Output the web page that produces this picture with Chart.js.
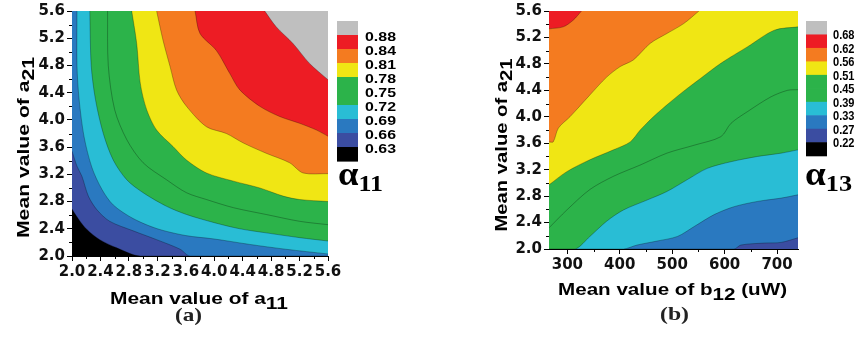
<!DOCTYPE html>
<html>
<head>
<meta charset="utf-8">
<script src="https://cdn.jsdelivr.net/npm/chart.js@4.4.1/dist/chart.umd.min.js"></script>
<style>
  body { margin: 0; background: #fff; }
  #wrap { position: relative; width: 867px; height: 345px; }
  #wrap canvas { position: absolute; left: 0; top: 0; }
</style>
</head>
<body>
<div id="wrap">
  <canvas id="chartA" width="867" height="345"></canvas>
  <canvas id="chartB" width="867" height="345"></canvas>
</div>
<script>
// level colours, lowest level first (black ... gray)
const levelColors = ['#000000', '#3b4da1', '#2a79c0', '#29bdd5', '#2cb34a', '#2cb34a', '#f0e614', '#f47b20', '#ed1c24', '#bfbfbf'];
const barLabelsA = ['0.88', '0.84', '0.81', '0.78', '0.75', '0.72', '0.69', '0.66', '0.63'];
const barLabelsB = ['0.68', '0.62', '0.56', '0.51', '0.45', '0.39', '0.33', '0.27', '0.22'];

// (a) contour boundaries of alpha11 over (a11, a21)
const a063 = [[2.0,2.69],[2.1,2.53],[2.21,2.39],[2.39,2.24],[2.63,2.12],[2.96,2.0],[5.6,2.0]];
const a066 = [[2.0,3.54],[2.07,3.32],[2.14,3.17],[2.23,2.88],[2.35,2.68],[2.53,2.51],[2.86,2.37],[3.19,2.24],[3.52,2.1],[3.66,2.0],[5.6,2.0]];
const a069 = [[2.07,5.6],[2.07,4.8],[2.1,4.3],[2.17,3.75],[2.28,3.3],[2.42,2.98],[2.58,2.75],[2.86,2.55],[3.2,2.4],[3.6,2.3],[4.0,2.25],[4.5,2.17],[5.0,2.1],[5.6,2.03]];
const a072 = [[2.25,5.6],[2.27,4.8],[2.33,4.3],[2.44,3.8],[2.58,3.41],[2.77,3.12],[3.0,2.93],[3.33,2.73],[3.61,2.61],[4.0,2.49],[4.36,2.4],[4.73,2.34],[5.2,2.27],[5.6,2.22]];
const a075 = [[2.5,5.6],[2.51,4.8],[2.6,4.15],[2.77,3.71],[3.0,3.37],[3.33,3.12],[3.61,2.93],[3.89,2.83],[4.27,2.71],[4.73,2.61],[5.2,2.51],[5.6,2.46]];
const a078 = [[2.84,5.6],[2.91,5.12],[2.96,4.54],[3.05,4.15],[3.19,3.85],[3.42,3.61],[3.61,3.41],[3.89,3.22],[4.27,3.1],[4.64,3.0],[4.97,2.88],[5.2,2.83],[5.6,2.8]];
const a081 = [[3.19,5.6],[3.28,5.17],[3.38,4.78],[3.47,4.44],[3.61,4.2],[3.89,3.9],[4.17,3.8],[4.41,3.66],[4.73,3.51],[5.06,3.37],[5.25,3.22],[5.6,3.21]];
const a084 = [[3.73,5.6],[3.8,5.27],[4.03,5.02],[4.22,4.68],[4.36,4.44],[4.64,4.2],[4.92,4.05],[5.2,3.95],[5.44,3.85],[5.6,3.76]];
const a088 = [[4.71,5.6],[4.87,5.37],[5.11,5.12],[5.34,4.83],[5.6,4.59]];

// (b) contour boundaries of alpha13 over (b12, a21)
const b027 = [[265,2.0],[618,2.0],[631,2.06],[676,2.09],[708,2.1],[740,2.17]];
const b033 = [[265,2.0],[407,2.0],[433,2.06],[471,2.12],[510,2.19],[542,2.34],[580,2.52],[618,2.64],[663,2.72],[708,2.77],[740,2.82]];
const b039 = [[265,2.0],[315,2.0],[343,2.19],[375,2.42],[407,2.59],[452,2.74],[490,2.87],[529,3.05],[567,3.22],[612,3.32],[663,3.4],[708,3.45],[740,3.5]];
const b045 = [[265,2.32],[299,2.59],[343,2.9],[388,3.1],[439,3.27],[490,3.45],[542,3.57],[593,3.7],[612,3.9],[644,4.08],[688,4.3],[720,4.4],[740,4.41]];
const b051 = [[265,2.97],[299,3.17],[343,3.35],[388,3.5],[420,3.62],[439,3.8],[471,4.05],[516,4.35],[554,4.58],[593,4.81],[644,5.06],[695,5.31],[740,5.36]];
const b056 = [[265,3.62],[273,3.62],[283,3.83],[305,4.0],[343,4.33],[375,4.6],[401,4.76],[426,4.86],[458,5.11],[490,5.26],[522,5.41],[551,5.6]];
const b062 = [[265,5.33],[292,5.36],[311,5.46],[327,5.6]];

function contourSets(bounds, firstLevel) {
  return bounds.map((b, i) => ({
    data: b.map(p => ({ x: p[0], y: p[1] })),
    fill: 'end',
    backgroundColor: levelColors[firstLevel + i],
    borderColor: 'rgba(0,0,0,0.35)',
    borderWidth: 0.8,
    pointRadius: 0,
    tension: 0.3,
    order: -i
  }));
}

// draw text parts squeezed/stretched to a given width
function fitText(ctx, parts, left, baseline, width) {
  let w = 0;
  parts.forEach(p => { ctx.font = p[1]; w += ctx.measureText(p[0]).width; });
  ctx.save();
  ctx.translate(left, baseline);
  ctx.scale(width / w, 1);
  ctx.textAlign = 'left';
  ctx.textBaseline = 'alphabetic';
  let x = 0;
  parts.forEach(p => {
    ctx.font = p[1];
    ctx.fillText(p[0], x, p[2] || 0);
    x += ctx.measureText(p[0]).width;
  });
  ctx.restore();
}

const plotBg = {
  id: 'plotBg',
  beforeDatasetsDraw(chart, args, o) {
    const a = chart.chartArea, ctx = chart.ctx;
    ctx.save();
    ctx.fillStyle = o.color;
    ctx.fillRect(a.left, a.top, a.right - a.left, a.bottom - a.top);
    ctx.restore();
  }
};

const decor = {
  id: 'decor',
  afterDraw(chart, args, o) {
    const ctx = chart.ctx, xs = chart.scales.x, ys = chart.scales.y, a = chart.chartArea;
    ctx.save();
    // minor ticks
    ctx.strokeStyle = '#000';
    ctx.lineWidth = 1;
    ctx.beginPath();
    for (let i = 0; i < xs.ticks.length - 1; i++) {
      const px = Math.round(xs.getPixelForValue((xs.ticks[i].value + xs.ticks[i + 1].value) / 2)) + 0.5;
      ctx.moveTo(px, a.bottom); ctx.lineTo(px, a.bottom + 3);
    }
    for (let i = 0; i < ys.ticks.length - 1; i++) {
      const py = Math.round(ys.getPixelForValue((ys.ticks[i].value + ys.ticks[i + 1].value) / 2)) + 0.5;
      ctx.moveTo(a.left - 3, py); ctx.lineTo(a.left, py);
    }
    ctx.stroke();

    // colour bar
    const seg = o.barH / 10;
    for (let i = 0; i < 10; i++) {
      ctx.fillStyle = levelColors[9 - i];
      ctx.fillRect(o.barX, o.barTop + i * seg, o.barW, seg + 0.6);
    }
    ctx.fillStyle = '#000';
    o.labels.forEach((t, j) => {
      const cy = o.barTop + (j + 1) * seg + o.labelDy;
      fitText(ctx, [[t, o.labelFont]], o.labelX, cy + o.labelCap / 2, o.labelW);
    });

    // alpha symbol
    fitText(ctx, [['\u03b1', 'bold 34px "Liberation Serif"'], [o.alphaSub, 'bold 24px "Liberation Serif"', 6]], o.alphaX, o.alphaY, o.alphaW);

    // axis titles
    ctx.fillStyle = '#000';
    fitText(ctx, o.xTitle, o.xTitleX, o.xTitleY, o.xTitleW);
    ctx.save();
    ctx.translate(o.yTitleX, o.yTitleY);
    ctx.rotate(-Math.PI / 2);
    fitText(ctx, o.yTitle, -o.yTitleW / 2, 0, o.yTitleW);
    ctx.restore();

    // panel letter
    ctx.fillStyle = '#222';
    fitText(ctx, [[o.panel, 'bold 19px "Liberation Serif"']], o.panelX, o.panelY, o.panelW);
    ctx.restore();
  }
};

const tickFont = { family: '"DejaVu Sans"', size: 15, weight: 'bold' };
const titleFont = 'bold 16px "Liberation Sans"';

function axis(min, max, step, cb, fitFn) {
  return {
    type: 'linear', min, max, z: 1,
    grid: { drawOnChartArea: false, drawTicks: true, tickLength: 5, color: '#000', tickWidth: 1 },
    border: { display: true, color: '#000', width: 1 },
    ticks: { stepSize: step, includeBounds: false, color: '#111', font: tickFont, padding: 2, maxRotation: 0, autoSkip: false, callback: cb },
    afterFit: fitFn
  };
}

new Chart(document.getElementById('chartA'), {
  type: 'line',
  data: { datasets: contourSets([a063, a066, a069, a072, a075, a078, a081, a084, a088], 1) },
  options: {
    responsive: false,
    animation: false,
    layout: { padding: { left: 0, top: 11, right: 539, bottom: 0 } },
    scales: {
      x: axis(2.0, 5.6, 0.4, v => v.toFixed(1), s => { s.height = 89; }),
      y: axis(2.0, 5.6, 0.4, v => v.toFixed(1), s => { s.width = 72; })
    },
    plugins: {
      legend: { display: false },
      tooltip: { enabled: false },
      plotBg: { color: levelColors[0] },
      decor: {
        barX: 337, barTop: 21, barW: 21, barH: 140,
        labels: barLabelsA, labelX: 365, labelW: 31, labelDy: 1.5, labelCap: 9.6, labelFont: 'bold 13.5px "Liberation Sans"',
        alphaSub: '11', alphaX: 338, alphaY: 185, alphaW: 45,
        xTitle: [['Mean value of a', titleFont], ['11', titleFont, 5]], xTitleX: 110, xTitleY: 304, xTitleW: 178,
        yTitle: [['Mean value of a', titleFont], ['21', titleFont, 5]], yTitleX: 28.5, yTitleY: 147.5, yTitleW: 181,
        panel: '(a)', panelX: 175, panelY: 321, panelW: 27
      }
    }
  },
  plugins: [plotBg, decor]
});

new Chart(document.getElementById('chartB'), {
  type: 'line',
  data: { datasets: contourSets([b027, b033, b039, b045, b051, b056, b062], 2) },
  options: {
    responsive: false,
    animation: false,
    layout: { padding: { left: 480, top: 11, right: 69, bottom: 0 } },
    scales: {
      x: axis(265, 740, 100, v => v, s => { s.height = 96; }),
      y: axis(2.0, 5.6, 0.4, v => v.toFixed(1), s => { s.width = 69; })
    },
    plugins: {
      legend: { display: false },
      tooltip: { enabled: false },
      plotBg: { color: levelColors[1] },
      decor: {
        barX: 806, barTop: 21, barW: 21, barH: 134.7,
        labels: barLabelsB, labelX: 833, labelW: 21.5, labelDy: 0.5, labelCap: 8.6, labelFont: 'bold 12px "Liberation Sans"',
        alphaSub: '13', alphaX: 805, alphaY: 185, alphaW: 47,
        xTitle: [['Mean value of b', titleFont], ['12', titleFont, 5], [' (uW)', titleFont]], xTitleX: 558, xTitleY: 295, xTitleW: 229,
        yTitle: [['Mean value of a', titleFont], ['21', titleFont, 5]], yTitleX: 506.5, yTitleY: 145, yTitleW: 173,
        panel: '(b)', panelX: 660, panelY: 320, panelW: 29
      }
    }
  },
  plugins: [plotBg, decor]
});
</script>
</body>
</html>
